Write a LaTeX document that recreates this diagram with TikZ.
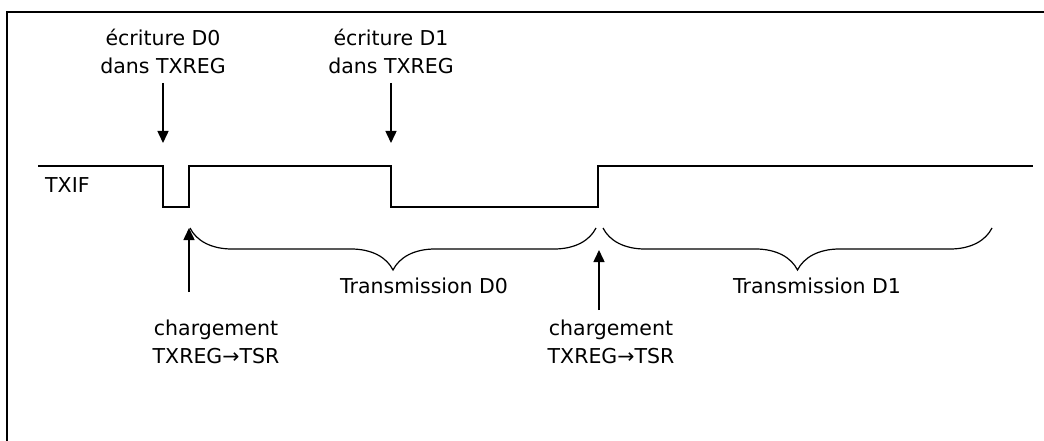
\documentclass[tikz,border=0pt]{standalone}
\usepackage{fontspec}
\setmainfont{DejaVu Sans}
\usetikzlibrary{arrows.meta,decorations.pathreplacing}

\begin{document}
\begin{tikzpicture}[x=1pt, y=-1pt, >={Triangle[length=12pt,width=11pt]},
    every node/.style={font=\fontsize{20.5}{28}\selectfont, inner sep=0pt, align=center},
    sig/.style={line width=2pt, line join=miter},
    flech/.style={->, line width=1.5pt},
    accol/.style={line width=1.2pt, decorate, decoration={brace, mirror, amplitude=42pt}}]
  \useasboundingbox (0,0) rectangle (1044,441);
  % cadre
  \draw[line width=2pt] (1044,12) -- (7,12) -- (7,441);
  % signal TXIF
  \draw[sig] (38,166) -- (163,166) -- (163,207) -- (189,207) -- (189,166)
    -- (391,166) -- (391,207) -- (598,207) -- (598,166) -- (1033,166);
  \node[anchor=base west] (txif) at (45,192) {TXIF};
  % ecritures dans TXREG
  \node[anchor=south] (ecrD0) at (163,74) {écriture D0\\dans TXREG};
  \node[anchor=south] (ecrD1) at (391,74) {écriture D1\\dans TXREG};
  \coordinate (wrA) at (163,143);
  \coordinate (wrB) at (391,143);
  \draw[flech] ([yshift=-9pt]ecrD0.south) -- (wrA);
  \draw[flech] ([yshift=-9pt]ecrD1.south) -- (wrB);
  % chargements TXREG -> TSR
  \node[anchor=north] (chrgA) at (216,320) {chargement\\TXREG→TSR};
  \node[anchor=north] (chrgB) at (611,320) {chargement\\TXREG→TSR};
  \coordinate (ldA0) at (189,292);
  \coordinate (ldA) at (189,228);
  \coordinate (ldB0) at (599,310);
  \coordinate (ldB) at (599,250);
  \draw[flech] (ldA0) -- (ldA);
  \draw[flech] (ldB0) -- (ldB);
  % transmissions
  \draw[accol] (190,228) -- (596,228);
  \draw[accol] (603,228) -- (992,228);
  \node[anchor=base west] (trD0) at (340,293) {Transmission D0};
  \node[anchor=base west] (trD1) at (733,293) {Transmission D1};
\end{tikzpicture}
\end{document}
